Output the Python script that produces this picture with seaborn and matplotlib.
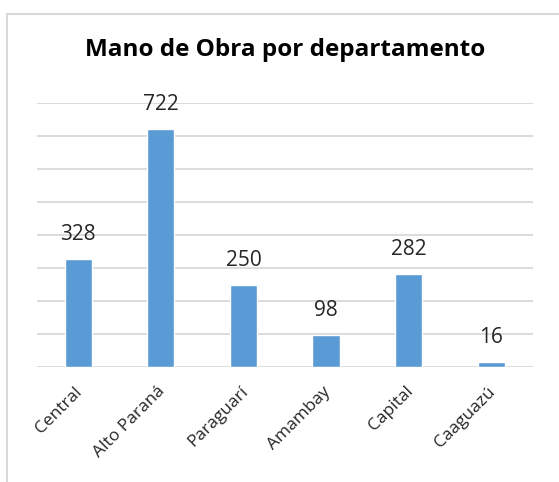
import matplotlib
matplotlib.use("Agg")
import matplotlib.pyplot as plt
import matplotlib.transforms as mtransforms
import seaborn as sns
import pandas as pd
from matplotlib.patches import Rectangle

departamentos = ["Central", "Alto Paraná", "Paraguarí", "Amambay", "Capital", "Caaguazú"]
mano_obra = [328, 722, 250, 98, 282, 16]

df = pd.DataFrame({"departamento": departamentos, "valor": mano_obra})

sns.set_theme(style="white")
plt.rcParams["font.family"] = ["Open Sans", "DejaVu Sans"]

fig = plt.figure(figsize=(5.59, 4.82), dpi=100)
ax = fig.add_axes([0.066, 0.2386, 0.887, 0.5476])

sns.barplot(data=df, x="departamento", y="valor", color="#5B9BD5", width=0.33,
            saturation=1, ax=ax, zorder=3)

ax.set_ylim(0, 800)
ax.set_yticks(range(0, 801, 100))
ax.yaxis.grid(True, color="#d9d9d9", linewidth=1.3, zorder=0)
ax.set_axisbelow(True)
ax.tick_params(axis="y", left=False, labelleft=False)
ax.tick_params(axis="x", bottom=False, pad=10)
for s in ["top", "right", "left", "bottom"]:
    ax.spines[s].set_visible(False)
ax.set_xlabel("")
ax.set_ylabel("")
ax.set_xlim(-0.5, len(departamentos) - 0.5)

# etiquetas a 45 grados, ancladas en el extremo derecho
shift = mtransforms.ScaledTranslation(2 / 100, 0, fig.dpi_scale_trans)
for lbl in ax.get_xticklabels():
    lbl.set_rotation(45)
    lbl.set_ha("right")
    lbl.set_va("center")
    lbl.set_rotation_mode("anchor")
    lbl.set_fontsize(12.5)
    lbl.set_color("#262626")
    lbl.set_transform(lbl.get_transform() + shift)

for i, v in enumerate(mano_obra):
    ax.annotate(str(v), (i, v), xytext=(0, 10), textcoords="offset points",
                ha="center", va="bottom", fontsize=15, color="#262626")

fig.text(0.51, 0.896, "Mano de Obra por departamento", ha="center", va="center",
         fontsize=17.5, fontweight="bold", color="#000000")

fig.add_artist(Rectangle((7 / 559, -0.05), 1.0, 1 - 14 / 482 + 0.05, transform=fig.transFigure,
                         fill=False, edgecolor="#d9d9d9", linewidth=1.5))

fig.savefig("out.png", dpi=100)
